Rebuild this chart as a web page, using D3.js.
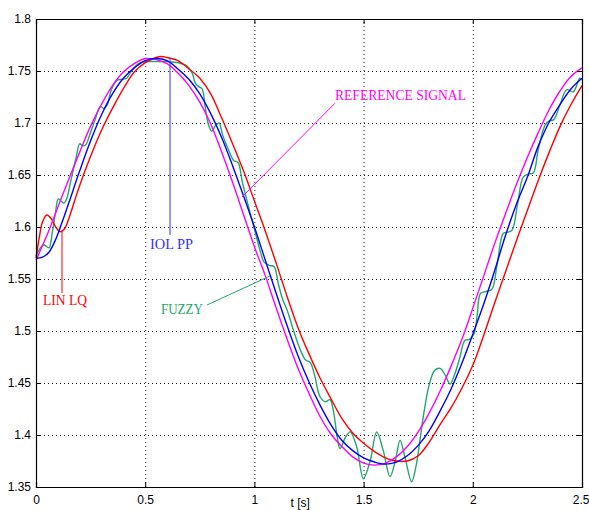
<!DOCTYPE html>
<html>
<head>
<meta charset="utf-8">
<script src="https://cdn.jsdelivr.net/npm/d3@7"></script>
<style>
  body { margin: 0; background: #fff; }
  svg { display: block; }
</style>
</head>
<body>
<div id="chart"></div>
<script>
// --- data ---
const xTicks = [0, 0.5, 1, 1.5, 2, 2.5];
const yTicks = [1.35, 1.4, 1.45, 1.5, 1.55, 1.6, 1.65, 1.7, 1.75, 1.8];

// reference signal (magenta)
const tRef = [0, 0.05, 0.1, 0.15, 0.2, 0.25, 0.3, 0.35, 0.4, 0.45, 0.5, 0.55, 0.6, 0.65, 0.7, 0.75, 0.8, 0.85, 0.9, 0.95,
  1.0, 1.05, 1.1, 1.15, 1.2, 1.25, 1.3, 1.35, 1.4, 1.45, 1.5, 1.55, 1.6, 1.65, 1.7, 1.75, 1.8, 1.85, 1.9, 1.95,
  2.0, 2.05, 2.1, 2.15, 2.2, 2.25, 2.3, 2.35, 2.4, 2.45, 2.5];
const yRef = [1.568, 1.592, 1.619, 1.646, 1.672, 1.697, 1.718, 1.736, 1.749, 1.757, 1.762, 1.761, 1.757, 1.748, 1.736, 1.72, 1.699, 1.672, 1.643, 1.612,
  1.581, 1.553, 1.522, 1.492, 1.464, 1.44, 1.418, 1.401, 1.389, 1.379, 1.373, 1.371, 1.373, 1.379, 1.389, 1.403, 1.421, 1.442, 1.466, 1.492,
  1.522, 1.553, 1.584, 1.613, 1.641, 1.667, 1.691, 1.713, 1.731, 1.745, 1.753];

// IOL PP (blue)
const tIol = [0, 0.03, 0.06, 0.09, 0.12, 0.15, 0.2, 0.25, 0.3, 0.35, 0.4, 0.45, 0.5, 0.55, 0.6, 0.65, 0.7, 0.75, 0.8, 0.85, 0.9, 0.95,
  1.0, 1.05, 1.1, 1.15, 1.2, 1.25, 1.3, 1.35, 1.4, 1.45, 1.5, 1.55, 1.6, 1.65, 1.7, 1.75, 1.8, 1.85, 1.9, 1.95,
  2.0, 2.05, 2.1, 2.15, 2.2, 2.25, 2.3, 2.35, 2.4, 2.45, 2.5];
const yIol = [1.570, 1.571, 1.576, 1.588, 1.605, 1.623, 1.654, 1.683, 1.708, 1.728, 1.743, 1.753, 1.760, 1.762, 1.760, 1.752, 1.742, 1.728, 1.709, 1.686, 1.659, 1.63,
  1.60, 1.568, 1.536, 1.505, 1.476, 1.451, 1.429, 1.41, 1.395, 1.385, 1.378, 1.374, 1.372, 1.374, 1.38, 1.39, 1.404, 1.423, 1.444, 1.469,
  1.497, 1.526, 1.558, 1.592, 1.622, 1.648, 1.678, 1.701, 1.718, 1.733, 1.743];

// LIN LQ (red)
const tLin = [0, 0.015, 0.03, 0.049, 0.07, 0.09, 0.11, 0.13, 0.15, 0.175, 0.2, 0.25, 0.3, 0.35, 0.4, 0.45, 0.5, 0.55, 0.575, 0.6, 0.65, 0.7, 0.75, 0.8, 0.85, 0.9, 0.95,
  1.0, 1.05, 1.1, 1.15, 1.2, 1.25, 1.3, 1.35, 1.4, 1.45, 1.5, 1.55, 1.6, 1.65, 1.7, 1.75, 1.8, 1.85, 1.9, 1.95,
  2.0, 2.05, 2.1, 2.15, 2.2, 2.25, 2.3, 2.35, 2.4, 2.45, 2.5];
const yLin = [1.570, 1.59, 1.605, 1.6115, 1.608, 1.600, 1.5955, 1.598, 1.608, 1.624, 1.64, 1.668, 1.693, 1.714, 1.733, 1.749, 1.758, 1.763, 1.764, 1.763, 1.76, 1.752, 1.743, 1.728, 1.705, 1.68, 1.654,
  1.625, 1.596, 1.565, 1.533, 1.503, 1.478, 1.455, 1.435, 1.416, 1.402, 1.392, 1.384, 1.378, 1.375, 1.375, 1.38, 1.393, 1.41, 1.426, 1.445,
  1.467, 1.496, 1.527, 1.557, 1.587, 1.616, 1.645, 1.672, 1.697, 1.718, 1.736];

// FUZZY (green)
const tFuz = [0, 0.02, 0.035, 0.05, 0.06, 0.075, 0.09, 0.102, 0.115, 0.127, 0.14, 0.16, 0.185, 0.2, 0.215, 0.228, 0.245, 0.27, 0.295, 0.31, 0.325, 0.345, 0.37, 0.39, 0.415, 0.44, 0.47,
  0.5, 0.55, 0.6, 0.65, 0.69, 0.715, 0.73, 0.745, 0.76, 0.775, 0.79, 0.805, 0.82, 0.838, 0.855, 0.88, 0.905, 0.925, 0.945, 0.975,
  1.005, 1.025, 1.045, 1.07, 1.09, 1.11, 1.13, 1.15, 1.18, 1.21, 1.235, 1.255, 1.275, 1.3, 1.325, 1.346, 1.361, 1.378, 1.392, 1.415, 1.438, 1.468, 1.499,
  1.53, 1.56, 1.59, 1.621, 1.645, 1.667, 1.69, 1.72, 1.74, 1.758, 1.775, 1.8, 1.825, 1.85, 1.875, 1.896, 1.918, 1.94, 1.964, 1.985,
  2.005, 2.02, 2.035, 2.06, 2.087, 2.11, 2.14, 2.16, 2.18, 2.205, 2.231, 2.255, 2.277, 2.3, 2.331, 2.35, 2.37, 2.4, 2.43, 2.46, 2.49, 2.5];
const yFuz = [1.572, 1.58, 1.583, 1.581, 1.580, 1.595, 1.615, 1.627, 1.625, 1.623, 1.627, 1.645, 1.668, 1.68, 1.678, 1.679, 1.688, 1.703, 1.716, 1.714, 1.717, 1.732, 1.741, 1.742, 1.743, 1.751, 1.757,
  1.759, 1.759, 1.759, 1.758, 1.755, 1.748, 1.738, 1.735, 1.733, 1.715, 1.698, 1.692, 1.697, 1.700, 1.688, 1.675, 1.664, 1.662, 1.643, 1.618,
  1.594, 1.578, 1.566, 1.563, 1.562, 1.545, 1.53, 1.52, 1.50, 1.482, 1.472, 1.470, 1.458, 1.437, 1.432, 1.434, 1.424, 1.400, 1.387, 1.397, 1.403, 1.389, 1.358,
  1.375, 1.403, 1.385, 1.360, 1.375, 1.395, 1.378, 1.355, 1.370, 1.395, 1.42, 1.448, 1.462, 1.464, 1.457, 1.449, 1.459, 1.474, 1.491, 1.492,
  1.497, 1.515, 1.536, 1.538, 1.540, 1.562, 1.594, 1.595, 1.597, 1.622, 1.648, 1.651, 1.652, 1.675, 1.698, 1.702, 1.703, 1.718, 1.732, 1.730, 1.743, 1.742];

const labelNames = ["REFERENCE SIGNAL", "IOL PP", "LIN LQ", "FUZZY"];

// --- layout ---
const width = 589, height = 510;
const m = { left: 36, right: 582, top: 19, bottom: 487 };
const colors = { ref: "#ff00ff", iol: "#0000ff", lin: "#ff0000", fuz: "#22a86c" };

const x = d3.scaleLinear().domain([0, 2.5]).range([m.left, m.right]);
const y = d3.scaleLinear().domain([1.35, 1.8]).range([m.bottom, m.top]);

const svg = d3.select("#chart").append("svg")
  .attr("width", width)
  .attr("height", height)
  .style("font-family", "'Liberation Sans', Arial, sans-serif");

// grid
const grid = svg.append("g").attr("class", "grid");
grid.append("g")
  .attr("transform", `translate(0,${m.bottom})`)
  .call(d3.axisBottom(x).tickValues(xTicks).tickSize(-(m.bottom - m.top)).tickFormat(""))
  .call(g => g.select(".domain").remove());
grid.append("g")
  .attr("transform", `translate(${m.left},0)`)
  .call(d3.axisLeft(y).tickValues(yTicks).tickSize(-(m.right - m.left)).tickFormat(""))
  .call(g => g.select(".domain").remove());
grid.selectAll("line")
  .attr("stroke", "#222")
  .attr("stroke-width", 1)
  .attr("stroke-dasharray", "1,3");

// curves
const line = d3.line()
  .x(d => x(d[0]))
  .y(d => y(d[1]))
  .curve(d3.curveCatmullRom.alpha(0.5));

const series = [
  { t: tFuz, v: yFuz, c: colors.fuz },
  { t: tLin, v: yLin, c: colors.lin },
  { t: tRef, v: yRef, c: colors.ref },
  { t: tIol, v: yIol, c: colors.iol }
];
series.forEach(s => {
  svg.append("path")
    .datum(d3.zip(s.t, s.v))
    .attr("fill", "none")
    .attr("stroke", s.c)
    .attr("stroke-width", 1.4)
    .attr("d", line);
});

// axes box with inward ticks
const fmt = d => String(d);
const ax = svg.append("g");
ax.append("g").attr("transform", `translate(0,${m.bottom})`)
  .call(d3.axisBottom(x).tickValues(xTicks).tickSize(-5).tickPadding(8).tickFormat(fmt));
ax.append("g").attr("transform", `translate(0,${m.top})`)
  .call(d3.axisTop(x).tickValues(xTicks).tickSize(-5).tickFormat(""));
ax.append("g").attr("transform", `translate(${m.left},0)`)
  .call(d3.axisLeft(y).tickValues(yTicks).tickSize(-5).tickPadding(5).tickFormat(fmt));
ax.append("g").attr("transform", `translate(${m.right},0)`)
  .call(d3.axisRight(y).tickValues(yTicks).tickSize(-5).tickFormat(""));
ax.selectAll(".domain").attr("stroke", "#000").attr("stroke-width", 1.2);
ax.selectAll(".tick line").attr("stroke", "#000");
ax.selectAll(".tick text")
  .attr("font-family", "'Liberation Sans', Arial, sans-serif")
  .attr("font-size", 12)
  .attr("fill", "#000");
// last x label sits against the right edge, as in the original
ax.selectAll(".tick text").filter(d => d === 2.5)
  .attr("text-anchor", "end")
  .attr("x", 7);

svg.append("text")
  .attr("x", x(1.21))
  .attr("y", m.bottom + 20)
  .attr("text-anchor", "middle")
  .attr("font-size", 12)
  .text("t [s]");

// annotations (anchors in data units)
const notes = [
  { name: labelNames[0], c: colors.ref, tx: 1.369, ty: 1.7221, p: [[1.369, 1.719], [0.943, 1.6288]], w: 131 },
  { name: labelNames[1], c: "#3333ff", tx: 0.522, ty: 1.5788, p: [[0.6136, 1.7625], [0.6136, 1.5923]], w: 43 },
  { name: labelNames[2], c: colors.lin, tx: 0.032, ty: 1.525, p: [[0.119, 1.5955], [0.119, 1.5365]], w: 44 },
  { name: labelNames[3], c: colors.fuz, tx: 0.572, ty: 1.5163, p: [[0.783, 1.525], [1.071, 1.5529]], w: 42 }
];
const ann = svg.append("g");
notes.forEach(n => {
  ann.append("line")
    .attr("x1", x(n.p[0][0])).attr("y1", y(n.p[0][1]))
    .attr("x2", x(n.p[1][0])).attr("y2", y(n.p[1][1]))
    .attr("stroke", n.c)
    .attr("stroke-width", 1);
  ann.append("text")
    .attr("x", x(n.tx))
    .attr("y", y(n.ty))
    .attr("font-family", "'Liberation Serif', 'Times New Roman', serif")
    .attr("font-size", 15)
    .attr("fill", n.c)
    .attr("textLength", n.w)
    .attr("lengthAdjust", "spacingAndGlyphs")
    .text(n.name);
});
</script>
</body>
</html>
